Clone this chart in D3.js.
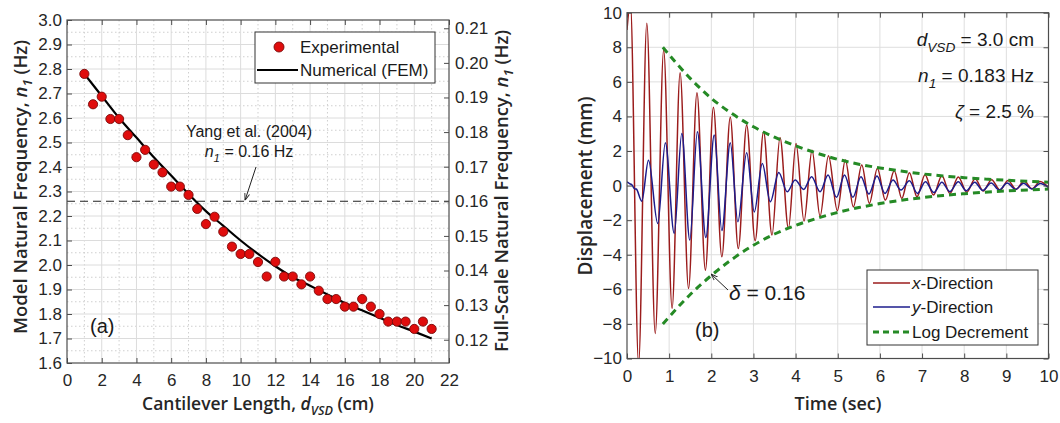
<!DOCTYPE html>
<html>
<head>
<meta charset="utf-8">
<script src="https://cdn.jsdelivr.net/npm/d3@7"></script>
<style>
  body { margin: 0; background: #fff; }
  svg { display: block; font-family: "Liberation Sans", Arial, sans-serif; }
  .title { font-family: "Open Sans", sans-serif; font-weight: 600; fill: #262626; }
  .tick text { font-family: "Liberation Sans", Arial, sans-serif; font-size: 17px; fill: #262626; }
  .tick line { stroke: #4d4d4d; }
  .domain { stroke: none; }
</style>
</head>
<body>
<svg id="chart" width="1060" height="423"></svg>
<script>
// ---------- (a) natural frequency vs. cantilever length ----------
const lengthCm = [1, 1.5, 2, 2.5, 3, 3.5, 4, 4.5, 5, 5.5, 6, 6.5, 7, 7.5, 8, 8.5, 9, 9.5, 10, 10.5,
                  11, 11.5, 12, 12.5, 13, 13.5, 14, 14.5, 15, 15.5, 16, 16.5, 17, 17.5, 18, 18.5,
                  19, 19.5, 20, 20.5, 21];
const measuredFreq = [2.78, 2.656, 2.687, 2.596, 2.596, 2.53, 2.44, 2.47, 2.41, 2.378, 2.32, 2.32,
                      2.286, 2.229, 2.167, 2.197, 2.136, 2.075, 2.045, 2.045, 2.012, 1.953, 2.013,
                      1.953, 1.953, 1.921, 1.953, 1.895, 1.861, 1.861, 1.83, 1.83, 1.861, 1.83,
                      1.80, 1.769, 1.769, 1.769, 1.739, 1.769, 1.739];
const femLength = [1, 2, 3, 4, 5, 6, 7, 8, 9, 10, 11, 12, 13, 14, 15, 16, 17, 18, 19, 20, 21];
const femFreq = [2.78, 2.69, 2.60, 2.52, 2.44, 2.365, 2.29, 2.22, 2.16, 2.10, 2.045, 1.995,
                 1.95, 1.915, 1.88, 1.845, 1.815, 1.785, 1.755, 1.728, 1.70];
const yangModelFreq = 2.26;   // model-scale equivalent of the Yang et al. (2004) value
const yangFullFreq = 0.16;    // full-scale value, Hz
const xTicksA = [0, 2, 4, 6, 8, 10, 12, 14, 16, 18, 20, 22];
const yTicksA = [1.6, 1.7, 1.8, 1.9, 2.0, 2.1, 2.2, 2.3, 2.4, 2.5, 2.6, 2.7, 2.8, 2.9, 3.0];
const yTicksFull = [0.12, 0.13, 0.14, 0.15, 0.16, 0.17, 0.18, 0.19, 0.20, 0.21];

// ---------- (b) free-decay displacement record (extrema of each cycle) ----------
const xDirTime = [0, 0.08, 0.275, 0.47, 0.67, 0.87, 1.07, 1.26, 1.46, 1.66, 1.86, 2.05, 2.25, 2.45,
                  2.64, 2.84, 3.04, 3.24, 3.44, 3.63, 3.83, 4.01, 4.20, 4.39, 4.58, 4.78, 4.99,
                  5.18, 5.37, 5.57, 5.75, 5.94, 6.13, 6.34, 6.52, 6.70, 6.88, 7.07, 7.27, 7.47,
                  7.66, 7.86, 8.06, 8.26, 8.45, 8.65, 8.85, 9.04, 9.23, 9.42, 9.61, 9.80, 10.0];
const xDirDisp = [9.0, 10.6, -10.3, 9.39, -8.55, 7.84, -7.1, 6.53, -5.95, 5.37, -4.89, 4.53, -4.12,
                  3.95, -3.64, 3.50, -3.19, 3.11, -2.86, 2.78, -2.48, 2.44, -2.05, 2.05, -1.77,
                  1.73, -1.45, 1.48, -1.23, 1.19, -1.03, 0.99, -0.84, 0.86, -0.74, 0.75, -0.65,
                  0.63, -0.55, 0.57, -0.46, 0.50, -0.38, 0.40, -0.31, 0.34, -0.26, 0.29, -0.22,
                  0.27, -0.18, 0.24, -0.10];
const yDirTime = [0, 0.06, 0.12, 0.18, 0.22, 0.35, 0.51, 0.73, 0.91, 1.12, 1.30, 1.49, 1.67, 1.87,
                  2.07, 2.25, 2.45, 2.63, 2.84, 3.02, 3.21, 3.40, 3.60, 3.80, 3.99, 4.19, 4.38,
                  4.58, 4.77, 4.97, 5.16, 5.36, 5.55, 5.74, 5.93, 6.12, 6.31, 6.50, 6.70, 6.89,
                  7.08, 7.28, 7.47, 7.66, 7.86, 8.05, 8.25, 8.44, 8.64, 8.83, 9.02, 9.22, 9.41,
                  9.61, 9.80, 10.0];
const yDirDisp = [0.22, 0.12, 0.03, -0.18, -0.2, -0.9, 1.47, -2.19, 2.48, -2.77, 3.02, -3.15, 3.11,
                  -3.0, 2.92, -2.6, 2.48, -2.09, 1.9, -1.52, 1.28, -0.94, 0.76, -0.36, 0.32, -0.22,
                  0.51, -0.36, 0.61, -0.68, 0.61, -0.68, 0.51, -0.49, 0.55, -0.45, 0.32, -0.26,
                  0.28, -0.45, 0.22, -0.40, 0.20, -0.35, 0.22, -0.30, 0.20, -0.28, 0.15, -0.25,
                  0.15, -0.22, 0.13, -0.20, 0.12, -0.10];
const envTime = [0.85, 1.5, 2, 2.5, 3, 3.5, 4, 4.5, 5, 5.5, 6, 6.5, 7, 7.5, 8, 8.5, 9, 9.5, 10];
const envUpper = [8.0, 6.2, 5.05, 4.15, 3.4, 2.8, 2.3, 1.88, 1.52, 1.24, 1.02, 0.84, 0.68, 0.56,
                  0.46, 0.38, 0.31, 0.25, 0.2];
const envLower = [-8.0, -6.3, -5.2, -4.25, -3.45, -2.8, -2.3, -1.9, -1.55, -1.27, -1.04, -0.85,
                  -0.70, -0.57, -0.47, -0.38, -0.31, -0.25, -0.2];
const xTicksB = [0, 1, 2, 3, 4, 5, 6, 7, 8, 9, 10];
const yTicksB = [-10, -8, -6, -4, -2, 0, 2, 4, 6, 8, 10];

const svg = d3.select("#chart");
svg.append("rect").attr("width", 1060).attr("height", 423).attr("fill", "#fff");

// text built from runs: t = text, i = italic, sub = subscript run, dy = baseline shift
function subText(g, parts) {
  parts.forEach(p => {
    const t = g.append("tspan").text(p.t);
    if (p.i) t.attr("font-style", "italic");
    if (p.sub) t.attr("font-size", p.size || "0.72em").attr("dy", p.dy);
    else if (p.dy) t.attr("dy", p.dy);
    if (p.dx) t.attr("dx", p.dx);
  });
}

// =================== panel (a) ===================
const A = { l: 67, r: 449, t: 20, b: 363 };
const xA = d3.scaleLinear().domain([0, 22]).range([A.l, A.r]);
const yA = d3.scaleLinear().domain([1.6, 3.0]).range([A.b, A.t]);
const yFull = d3.scaleLinear()
  .domain([1.6 * yangFullFreq / yangModelFreq, 3.0 * yangFullFreq / yangModelFreq])
  .range([A.b, A.t]);

const ga = svg.append("g");
// grid: minor dotted, major solid
const minorX = d3.range(1, 22, 2);
const minorY = yTicksA.slice(0, -1).map(v => v + 0.05);
ga.append("g").selectAll("line").data(minorX).join("line")
  .attr("x1", d => xA(d)).attr("x2", d => xA(d)).attr("y1", A.t).attr("y2", A.b)
  .attr("stroke", "#cfcfcf").attr("stroke-dasharray", "1.5,2.5");
ga.append("g").selectAll("line").data(minorY).join("line")
  .attr("y1", d => yA(d)).attr("y2", d => yA(d)).attr("x1", A.l).attr("x2", A.r)
  .attr("stroke", "#cfcfcf").attr("stroke-dasharray", "1.5,2.5");
ga.append("g").selectAll("line").data(xTicksA.slice(1, -1)).join("line")
  .attr("x1", d => xA(d)).attr("x2", d => xA(d)).attr("y1", A.t).attr("y2", A.b)
  .attr("stroke", "#dcdcdc");
ga.append("g").selectAll("line").data(yTicksA.slice(1, -1)).join("line")
  .attr("y1", d => yA(d)).attr("y2", d => yA(d)).attr("x1", A.l).attr("x2", A.r)
  .attr("stroke", "#dcdcdc");

// reference line for Yang et al.
ga.append("line").attr("x1", A.l).attr("x2", A.r)
  .attr("y1", yA(yangModelFreq)).attr("y2", yA(yangModelFreq))
  .attr("stroke", "#222").attr("stroke-width", 1.1).attr("stroke-dasharray", "8,5");

// FEM curve
ga.append("path")
  .datum(femLength.map((d, i) => [d, femFreq[i]]))
  .attr("fill", "none").attr("stroke", "#000").attr("stroke-width", 2.2)
  .attr("d", d3.line().x(d => xA(d[0])).y(d => yA(d[1])).curve(d3.curveMonotoneX));

// experimental points
ga.append("g").selectAll("circle")
  .data(lengthCm.map((d, i) => [d, measuredFreq[i]])).join("circle")
  .attr("cx", d => xA(d[0])).attr("cy", d => yA(d[1])).attr("r", 4.6)
  .attr("fill", "#e00d0d").attr("stroke", "#7a0a0a").attr("stroke-width", 0.9);

// axes
ga.append("g").attr("transform", `translate(0,${A.b})`)
  .call(d3.axisBottom(xA).tickValues(xTicksA).tickSize(-5).tickPadding(11).tickFormat(d3.format("d")));
ga.append("g").attr("transform", `translate(0,${A.t})`)
  .call(d3.axisTop(xA).tickValues(xTicksA).tickSize(-5).tickFormat(""));
ga.append("g").attr("transform", `translate(${A.l},0)`)
  .call(d3.axisLeft(yA).tickValues(yTicksA).tickSize(-5).tickPadding(5).tickFormat(d3.format(".1f")));
ga.append("g").attr("transform", `translate(${A.r},0)`)
  .call(d3.axisRight(yFull).tickValues(yTicksFull).tickSize(-5).tickPadding(6).tickFormat(d3.format(".2f")));
ga.append("rect").attr("x", A.l).attr("y", A.t).attr("width", A.r - A.l).attr("height", A.b - A.t)
  .attr("fill", "none").attr("stroke", "#4d4d4d").attr("stroke-width", 1.2);

// legend (a)
const la = ga.append("g");
la.append("rect").attr("x", 255).attr("y", 32).attr("width", 180).attr("height", 51)
  .attr("fill", "#fff").attr("stroke", "#333").attr("stroke-width", 1);
la.append("circle").attr("cx", 279).attr("cy", 47).attr("r", 5)
  .attr("fill", "#e00d0d").attr("stroke", "#7a0a0a").attr("stroke-width", 0.9);
la.append("text").attr("x", 300).attr("y", 53).attr("font-size", 17).attr("fill", "#1a1a1a").text("Experimental");
la.append("line").attr("x1", 257).attr("x2", 298).attr("y1", 70).attr("y2", 70)
  .attr("stroke", "#000").attr("stroke-width", 2.2);
la.append("text").attr("x", 300).attr("y", 76).attr("font-size", 17).attr("fill", "#1a1a1a").text("Numerical (FEM)");

// annotation
ga.append("text").attr("x", 249).attr("y", 137).attr("text-anchor", "middle").attr("font-size", 16)
  .attr("fill", "#1a1a1a").text("Yang et al. (2004)");
const nt = ga.append("text").attr("x", 249).attr("y", 157).attr("text-anchor", "middle")
  .attr("font-size", 16).attr("fill", "#1a1a1a");
subText(nt, [{ t: "n", i: true }, { t: "1", i: true, sub: true, dy: 5 }, { t: " = 0.16 Hz", dy: -5 }]);

svg.append("defs").append("marker").attr("id", "arr").attr("viewBox", "0 0 10 10")
  .attr("refX", 10).attr("refY", 5).attr("markerWidth", 7).attr("markerHeight", 7)
  .attr("orient", "auto-start-reverse")
  .append("path").attr("d", "M0,1.5 L10,5 L0,8.5").attr("fill", "none").attr("stroke", "#222").attr("stroke-width", 1.3);
ga.append("line").attr("x1", 256).attr("y1", 167).attr("x2", 245).attr("y2", yA(yangModelFreq) - 1)
  .attr("stroke", "#222").attr("stroke-width", 1).attr("marker-end", "url(#arr)");

ga.append("text").attr("x", 90).attr("y", 333).attr("font-size", 20).attr("fill", "#1a1a1a").text("(a)");

// titles (a)
const tyA = ga.append("text").attr("class", "title").attr("font-size", 18.5)
  .attr("text-anchor", "middle").attr("transform", "translate(27,187) rotate(-90)");
subText(tyA, [{ t: "Model Natural Frequency, " }, { t: "n", i: true }, { t: "1", i: true, sub: true, dy: 5 }, { t: " (Hz)", dy: -5 }]);
const tyA2 = ga.append("text").attr("class", "title").attr("font-size", 18.5)
  .attr("text-anchor", "middle").attr("transform", "translate(508,191) rotate(-90)");
subText(tyA2, [{ t: "Full-Scale Natural Frequency, " }, { t: "n", i: true }, { t: "1", i: true, sub: true, dy: 5 }, { t: " (Hz)", dy: -5 }]);
const txA = ga.append("text").attr("class", "title").attr("font-size", 17.5)
  .attr("text-anchor", "middle").attr("x", 258).attr("y", 410);
subText(txA, [{ t: "Cantilever Length, " }, { t: "d", i: true }, { t: "VSD", i: true, sub: true, dy: 5 }, { t: " (cm)", dy: -5 }]);

// =================== panel (b) ===================
const B = { l: 627, r: 1048.5, t: 12.7, b: 358.5 };
const xB = d3.scaleLinear().domain([0, 10]).range([B.l, B.r]);
const yB = d3.scaleLinear().domain([-10, 10]).range([B.b, B.t]);
const gb = svg.append("g");

gb.append("g").selectAll("line").data(xTicksB.slice(1, -1)).join("line")
  .attr("x1", d => xB(d)).attr("x2", d => xB(d)).attr("y1", B.t).attr("y2", B.b).attr("stroke", "#dedede");
gb.append("g").selectAll("line").data(yTicksB.slice(1, -1)).join("line")
  .attr("y1", d => yB(d)).attr("y2", d => yB(d)).attr("x1", B.l).attr("x2", B.r).attr("stroke", "#dedede");

svg.select("defs").append("clipPath").attr("id", "clipB")
  .append("rect").attr("x", B.l).attr("y", B.t).attr("width", B.r - B.l).attr("height", B.b - B.t);

const lineB = d3.line().x(d => xB(d[0])).y(d => yB(d[1])).curve(d3.curveMonotoneX);
const plotB = gb.append("g").attr("clip-path", "url(#clipB)");
plotB.append("path").datum(xDirTime.map((t, i) => [t, xDirDisp[i]]))
  .attr("fill", "none").attr("stroke", "#9b1c1c").attr("stroke-width", 1.5).attr("d", lineB);
plotB.append("path").datum(yDirTime.map((t, i) => [t, yDirDisp[i]]))
  .attr("fill", "none").attr("stroke", "#1c1c8c").attr("stroke-width", 1.5).attr("d", lineB);
[envUpper, envLower].forEach(env => {
  plotB.append("path").datum(envTime.map((t, i) => [t, env[i]]))
    .attr("fill", "none").attr("stroke", "#258a25").attr("stroke-width", 3)
    .attr("stroke-dasharray", "7,5").attr("d", lineB);
});

gb.append("g").attr("transform", `translate(0,${B.b})`)
  .call(d3.axisBottom(xB).tickValues(xTicksB).tickSize(-5).tickPadding(11).tickFormat(d3.format("d")));
gb.append("g").attr("transform", `translate(0,${B.t})`)
  .call(d3.axisTop(xB).tickValues(xTicksB).tickSize(-5).tickFormat(""));
gb.append("g").attr("transform", `translate(${B.l},0)`)
  .call(d3.axisLeft(yB).tickValues(yTicksB).tickSize(-5).tickPadding(5).tickFormat(d3.format("d")));
gb.append("g").attr("transform", `translate(${B.r},0)`)
  .call(d3.axisRight(yB).tickValues(yTicksB).tickSize(-5).tickFormat(""));
gb.append("rect").attr("x", B.l).attr("y", B.t).attr("width", B.r - B.l).attr("height", B.b - B.t)
  .attr("fill", "none").attr("stroke", "#4d4d4d").attr("stroke-width", 1.2);

// parameter labels
const p1 = gb.append("text").attr("x", 1034).attr("y", 46).attr("text-anchor", "end").attr("font-size", 19).attr("fill", "#1a1a1a");
subText(p1, [{ t: "d", i: true }, { t: "VSD", i: true, sub: true, dy: 6 }, { t: "  = 3.0 cm", dy: -6 }]);
const p2 = gb.append("text").attr("x", 1034).attr("y", 82).attr("text-anchor", "end").attr("font-size", 19).attr("fill", "#1a1a1a");
subText(p2, [{ t: "n", i: true }, { t: "1", i: true, sub: true, dy: 6 }, { t: "   = 0.183 Hz", dy: -6 }]);
const p3 = gb.append("text").attr("x", 1034).attr("y", 118).attr("text-anchor", "end").attr("font-size", 19).attr("fill", "#1a1a1a");
subText(p3, [{ t: "ζ", i: true }, { t: " = 2.5 %" }]);

// log-decrement callout
gb.append("line").attr("x1", 728).attr("y1", 290).attr("x2", 711).attr("y2", 274)
  .attr("stroke", "#222").attr("stroke-width", 1).attr("marker-end", "url(#arr)");
const dl = gb.append("text").attr("x", 729).attr("y", 300).attr("font-size", 21).attr("fill", "#1a1a1a");
subText(dl, [{ t: "δ", i: true }, { t: " = 0.16" }]);
gb.append("text").attr("x", 695).attr("y", 337).attr("font-size", 20).attr("fill", "#1a1a1a").text("(b)");

// legend (b)
const lb = gb.append("g");
lb.append("rect").attr("x", 867).attr("y", 270).attr("width", 171).attr("height", 75)
  .attr("fill", "#fff").attr("stroke", "#333").attr("stroke-width", 1);
const legB = [
  { y: 283, color: "#9b1c1c", dash: null, w: 1.5, parts: [{ t: "x", i: true }, { t: "-Direction" }] },
  { y: 307, color: "#1c1c8c", dash: null, w: 1.5, parts: [{ t: "y", i: true }, { t: "-Direction" }] },
  { y: 332, color: "#258a25", dash: "6,4", w: 3, parts: [{ t: "Log Decrement" }] }
];
legB.forEach(e => {
  lb.append("line").attr("x1", 873).attr("x2", 910).attr("y1", e.y).attr("y2", e.y)
    .attr("stroke", e.color).attr("stroke-width", e.w).attr("stroke-dasharray", e.dash);
  const t = lb.append("text").attr("x", 912).attr("y", e.y + 6).attr("font-size", 17).attr("fill", "#1a1a1a");
  subText(t, e.parts);
});

// titles (b)
gb.append("text").attr("class", "title").attr("font-size", 19).attr("text-anchor", "middle")
  .attr("transform", "translate(592,186) rotate(-90)").text("Displacement (mm)");
gb.append("text").attr("class", "title").attr("font-size", 18).attr("text-anchor", "middle")
  .attr("x", 838).attr("y", 410).text("Time (sec)");
</script>
</body>
</html>
